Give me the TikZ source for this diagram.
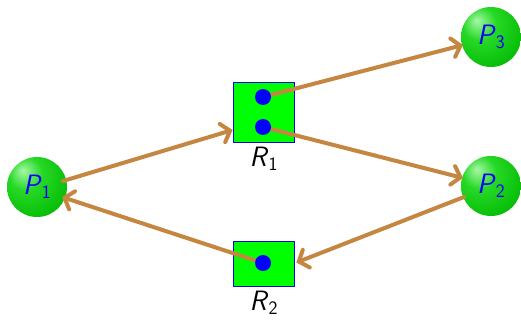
\documentclass[tikz,border=0pt]{standalone}
\usetikzlibrary{arrows.meta,calc}
\definecolor{arc}{RGB}{196,134,64}
\definecolor{tokblue}{RGB}{0,0,255}
\definecolor{trgreen}{RGB}{0,255,0}
\pgfdeclareradialshading{greenball}{\pgfpoint{-12bp}{14bp}}{%
  rgb(0bp)=(0.65,0.97,0.65);
  rgb(14bp)=(0.15,0.85,0.15);
  rgb(38bp)=(0.0,0.72,0.0);
  rgb(58bp)=(0.0,0.5,0.0);
  rgb(70bp)=(0.0,0.45,0.0)}
\newcommand{\lab}[2]{\textit{#1}\raisebox{-0.32ex}{\fontsize{19}{19}\selectfont #2}}
\tikzset{
  place/.style={circle,minimum size=60pt,inner sep=0pt,shading=greenball,text=tokblue,font=\fontsize{28}{28}\selectfont\sffamily},
  trans/.style={draw=tokblue,line width=0.8pt,fill=trgreen,inner sep=0pt},
  token/.style={circle,fill=tokblue,minimum size=16pt,inner sep=0pt},
  lbl/.style={font=\fontsize{28}{28}\selectfont\sffamily,text=black},
  arcline/.style={draw=arc,line width=4pt,line cap=round,-{Straight Barb[length=8pt,width=19pt,line cap=round]}}
}
\begin{document}
\begin{tikzpicture}[x=1pt,y=-1pt]
\useasboundingbox (0,0) rectangle (521,320);
\node[place] (P1) at (37,187) {\lab{P}{1}};
\node[place] (P2) at (491,186) {\lab{P}{2}};
\node[place] (P3) at (491,37) {\lab{P}{3}};
\node[trans,minimum width=61pt,minimum height=60pt] (R1) at (263.5,112) {};
\node[trans,minimum width=61pt,minimum height=45pt] (R2) at (263.5,263.5) {};
\coordinate (t1) at (263,97);
\coordinate (t2) at (263,127);
\coordinate (t3) at (263,263);
\coordinate (r1in) at ($(R1.west)+(0,18)$);
\coordinate (p1out) at ($(P1.center)+(26,-6)$);
\coordinate (p1in) at ($(P1.center)+(25,10)$);
\coordinate (p3in) at ($(P3.center)+(-28,8)$);
\coordinate (p2in) at ($(P2.center)+(-28,-8)$);
\coordinate (p2out) at ($(P2.center)+(-27,11)$);
\coordinate (r2in) at ($(R2.east)+(2,-1)$);
\draw[arcline] (p1out) -- (r1in);
\draw[arcline] (t1) -- (p3in);
\draw[arcline] (t2) -- (p2in);
\draw[arcline] (p2out) -- (r2in);
\draw[arcline] (t3) -- (p1in);
\node[token] (k1) at (t1) {};
\node[token] (k2) at (t2) {};
\node[token] (k3) at (t3) {};
\node[lbl,anchor=north] (L1) at ($(R1.south)+(0,1)$) {\lab{R}{1}};
\node[lbl,anchor=north] (L2) at ($(R2.south)+(0,1)$) {\lab{R}{2}};
\end{tikzpicture}
\end{document}
